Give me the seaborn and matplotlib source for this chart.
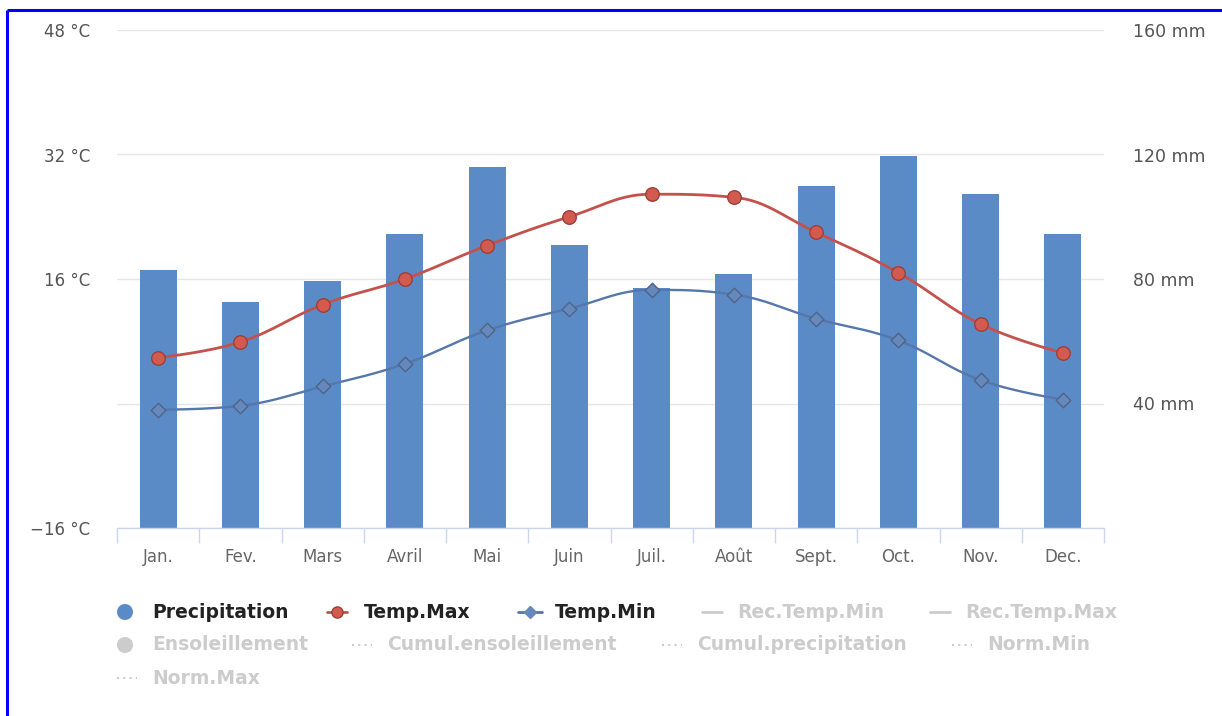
import numpy as np
import matplotlib
matplotlib.use("Agg")
import matplotlib.pyplot as plt
from matplotlib.patches import Circle
import pandas as pd
import seaborn as sns

# ---- data -------------------------------------------------------------
months = ["Jan.", "Fev.", "Mars", "Avril", "Mai", "Juin",
          "Juil.", "Août", "Sept.", "Oct.", "Nov.", "Dec."]
precipitation = [83.0, 72.5, 79.4, 94.4, 115.9, 90.9,
                 77.0, 81.7, 110.0, 119.4, 107.2, 94.4]
temp_max = [5.9, 7.9, 12.7, 16.0, 20.3, 24.0, 26.9, 26.5, 22.0, 16.8, 10.2, 6.5]
temp_min = [-0.8, -0.3, 2.2, 5.1, 9.4, 12.2, 14.6, 14.0, 10.9, 8.1, 3.0, 0.5]

temp_ticks = [-16, 0, 16, 32, 48]
temp_tick_labels = ["−16 °C", "", "16 °C", "32 °C", "48 °C"]
precip_ticks = [0, 40, 80, 120, 160]
precip_tick_labels = ["", "40 mm", "80 mm", "120 mm", "160 mm"]

legend_row1 = ["Precipitation", "Temp.Max", "Temp.Min", "Rec.Temp.Min", "Rec.Temp.Max"]
legend_row2 = ["Ensoleillement", "Cumul.ensoleillement", "Cumul.precipitation", "Norm.Min"]
legend_row3 = ["Norm.Max"]

# ---- style ------------------------------------------------------------
BAR = "#5b8bc7"
RED = "#c4524c"
RED_FACE = "#d25a4f"
RED_EDGE = "#9c3f3a"
BLUE_LINE = "#5577aa"
BLUE_FACE = "#6589bd"
BLUE_EDGE = "#4f6488"
GRID = "#e6e6e6"
AXIS = "#ccd6eb"
INACTIVE = "#cccccc"

sns.set_theme(style="white")
plt.rcParams["font.family"] = ["DejaVu Sans"]

W, H = 1222, 716
fig = plt.figure(figsize=(W / 100, H / 100), dpi=100)
fig.patch.set_facecolor("white")

left, right, top, bottom = 117, 1104, 30, 528
rect = [left / W, 1 - bottom / H, (right - left) / W, (bottom - top) / H]

# precipitation axis (drawn underneath) carries the grid
ax2 = fig.add_axes(rect)
# temperature axis on top
ax = ax2.twinx()
ax.set_zorder(ax2.get_zorder() + 1)
ax.patch.set_visible(False)


def spline(xs, ys, smoothing=1.5, n=40):
    """Smooth curve through the points using clamped cubic Bezier segments."""
    pts = list(zip(xs, ys))
    N = len(pts)
    lc = [None] * N
    rc = [None] * N
    d = smoothing + 1
    for i in range(1, N - 1):
        x, y = pts[i]
        px, py = pts[i - 1]
        nx, ny = pts[i + 1]
        lcx, lcy = (smoothing * x + px) / d, (smoothing * y + py) / d
        rcx, rcy = (smoothing * x + nx) / d, (smoothing * y + ny) / d
        if rcx != lcx:
            corr = ((rcy - lcy) * (rcx - x)) / (rcx - lcx) + y - rcy
            lcy += corr
            rcy += corr
        if lcy > py and lcy > y:
            lcy = max(py, y); rcy = 2 * y - lcy
        elif lcy < py and lcy < y:
            lcy = min(py, y); rcy = 2 * y - lcy
        if rcy > ny and rcy > y:
            rcy = max(ny, y); lcy = 2 * y - rcy
        elif rcy < ny and rcy < y:
            rcy = min(ny, y); lcy = 2 * y - rcy
        lc[i] = (lcx, lcy)
        rc[i] = (rcx, rcy)
    out_x, out_y = [], []
    t = np.linspace(0, 1, n)
    for i in range(1, N):
        p0 = np.array(pts[i - 1])
        p1 = np.array(rc[i - 1] if rc[i - 1] else pts[i - 1])
        p2 = np.array(lc[i] if lc[i] else pts[i])
        p3 = np.array(pts[i])
        seg = ((1 - t) ** 3)[:, None] * p0 + (3 * (1 - t) ** 2 * t)[:, None] * p1 \
            + (3 * (1 - t) * t ** 2)[:, None] * p2 + (t ** 3)[:, None] * p3
        out_x.extend(seg[:, 0]); out_y.extend(seg[:, 1])
    return np.array(out_x), np.array(out_y)


df = pd.DataFrame({"month": months, "precip": precipitation,
                   "tmax": temp_max, "tmin": temp_min,
                   "pos": np.arange(len(months))})

# bars
sns.barplot(data=df, x="month", y="precip", ax=ax2, color=BAR,
            saturation=1, width=0.45, edgecolor="none", zorder=2)

# smooth lines
sx, sy = spline(df["pos"], df["tmax"])
ax.plot(sx, sy, color=RED, lw=2.0, zorder=3, solid_capstyle="round")
sx, sy = spline(df["pos"], df["tmin"])
ax.plot(sx, sy, color=BLUE_LINE, lw=1.7, zorder=3, solid_capstyle="round")

# markers
sns.scatterplot(data=df, x="pos", y="tmax", ax=ax, marker="o", s=95,
                color=RED_FACE, edgecolor=RED_EDGE, linewidth=1.0, zorder=4)
sns.scatterplot(data=df, x="pos", y="tmin", ax=ax, marker="D", s=55,
                color=BLUE_FACE, edgecolor=BLUE_EDGE, linewidth=1.0, zorder=4)

# axes limits / ticks
ax2.set_xlim(-0.5, len(months) - 0.5)
ax.set_ylim(-16, 48)
ax2.set_ylim(0, 160)

ax2.set_yticks(precip_ticks)
ax2.yaxis.grid(True, color=GRID, lw=1.0)
ax2.xaxis.grid(False)
ax2.set_axisbelow(True)

ax.set_yticks(temp_ticks)
ax.grid(False)

# temperature labels on the left, precipitation labels on the right
ax.yaxis.set_ticks_position("left")
ax.set_yticklabels(temp_tick_labels)
ax.tick_params(axis="y", length=0, pad=19, labelsize=12, labelcolor="#555555",
               left=False, right=False, labelleft=True, labelright=False)
ax2.yaxis.set_ticks_position("right")
ax2.set_yticklabels(precip_tick_labels)
ax2.tick_params(axis="y", length=0, pad=21, labelsize=12.5, labelcolor="#555555",
                left=False, right=False, labelright=True, labelleft=False)

ax2.set_xticks(df["pos"])
ax2.set_xticklabels(months)
ax2.set_xticks(np.arange(-0.5, len(months)), minor=True)
ax2.tick_params(axis="x", which="major", bottom=False, length=0, pad=14.5,
                labelsize=12, labelcolor="#666666", labelbottom=True)
ax2.tick_params(axis="x", which="minor", bottom=True, length=11, width=1,
                color=AXIS, direction="out")
ax.tick_params(axis="x", which="both", bottom=False, top=False,
               labelbottom=False, labeltop=False)

for a in (ax, ax2):
    for s in a.spines.values():
        s.set_visible(False)
    a.set_xlabel("")
    a.set_ylabel("")
ax2.spines["bottom"].set_visible(True)
ax2.spines["bottom"].set_color(AXIS)
ax2.spines["bottom"].set_linewidth(1)

# ---- legend and frame in pixel space ------------------------------------
ov = fig.add_axes([0, 0, 1, 1], zorder=10)
ov.set_xlim(0, W)
ov.set_ylim(H, 0)
ov.axis("off")
ov.patch.set_visible(False)

ov.plot([7, 7], [10, H + 5], color="#0000ff", lw=2.2, solid_capstyle="butt")
ov.plot([7, W + 5], [10, 10], color="#0000ff", lw=2.2, solid_capstyle="butt")

fs = 13.5


def legend_text(x, y, s, color):
    ov.text(x, y, s, fontsize=fs, fontweight="bold", color=color,
            ha="left", va="center")


y1, y2, y3 = 612, 645, 678
# row 1
ov.add_patch(Circle((125, y1), 8, color=BAR, lw=0))
legend_text(152, y1, legend_row1[0], "#222222")
ov.plot([327, 347], [y1, y1], color=RED, lw=2)
ov.plot([337], [y1], marker="o", ms=8, mfc=RED_FACE, mec=RED_EDGE, mew=1)
legend_text(364, y1, legend_row1[1], "#222222")
ov.plot([518, 542], [y1, y1], color=BLUE_LINE, lw=2)
ov.plot([530], [y1], marker="D", ms=6, mfc=BLUE_FACE, mec=BLUE_FACE, mew=1)
legend_text(555, y1, legend_row1[2], "#222222")
ov.plot([702, 722], [y1, y1], color=INACTIVE, lw=2)
legend_text(737, y1, legend_row1[3], INACTIVE)
ov.plot([930, 950], [y1, y1], color=INACTIVE, lw=2)
legend_text(965, y1, legend_row1[4], INACTIVE)
# row 2
ov.add_patch(Circle((125, y2), 8, color=INACTIVE, lw=0))
legend_text(152, y2, legend_row2[0], INACTIVE)
for xs, xt, lab in [(352, 387, legend_row2[1]), (662, 697, legend_row2[2]),
                    (952, 987, legend_row2[3])]:
    ov.plot([xs, xs + 20], [y2, y2], color=INACTIVE, lw=1.5, ls=(0, (1, 2)))
    legend_text(xt, y2, lab, INACTIVE)
# row 3
ov.plot([117, 137], [y3, y3], color=INACTIVE, lw=1.5, ls=(0, (1, 2)))
legend_text(152, y3, legend_row3[0], INACTIVE)

fig.savefig("out.png", dpi=100, facecolor="white")
